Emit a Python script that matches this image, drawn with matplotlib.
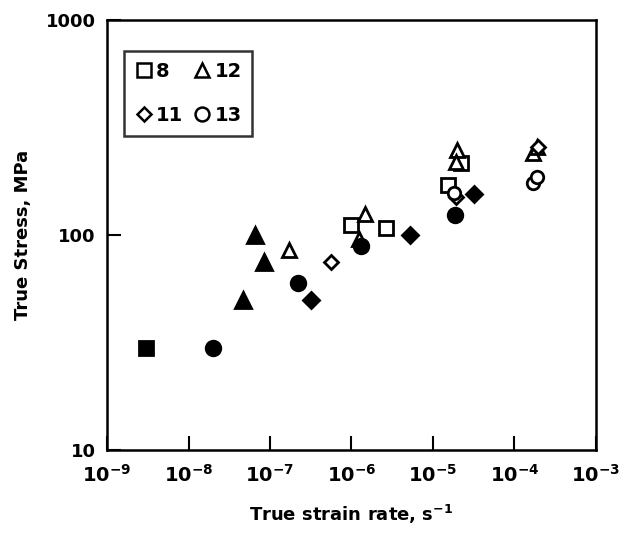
import matplotlib
matplotlib.use("Agg")
import matplotlib.pyplot as plt
from matplotlib.lines import Line2D

plt.rcParams['font.family'] = ['DejaVu Sans']
plt.rcParams['font.weight'] = 'bold'
plt.rcParams['mathtext.fontset'] = 'custom'
plt.rcParams['mathtext.rm'] = 'DejaVu Sans:bold'
plt.rcParams['mathtext.it'] = 'DejaVu Sans:bold'
plt.rcParams['mathtext.bf'] = 'DejaVu Sans:bold'

# Alloy 8 (squares)
sq_fill_x = [3.0e-9]
sq_fill_y = [30]
sq_open_x = [1.0e-6, 2.65e-6, 1.54e-5, 2.2e-5]
sq_open_y = [112, 108, 171, 216]

# Alloy 12 (triangles)
tri_fill_x = [4.6e-8, 6.5e-8, 8.4e-8]
tri_fill_y = [50, 100, 75]
tri_open_x = [1.7e-7, 1.25e-6, 1.47e-6, 1.95e-5, 1.9e-5, 1.67e-4, 1.87e-4]
tri_open_y = [85, 96, 126, 248, 218, 240, 256]

# Alloy 11 (diamonds)
dia_fill_x = [3.2e-7, 5.3e-6, 3.2e-5]
dia_fill_y = [50, 100, 155]
dia_open_x = [5.6e-7, 1.9e-5, 1.95e-4]
dia_open_y = [75, 150, 258]

# Alloy 13 (circles)
cir_fill_x = [2.0e-8, 2.2e-7, 1.3e-6, 1.86e-5]
cir_fill_y = [30, 60, 89, 124]
cir_open_x = [1.8e-5, 1.7e-4, 1.9e-4]
cir_open_y = [157, 174, 187]

xticks = [1e-9, 1e-8, 1e-7, 1e-6, 1e-5, 1e-4, 1e-3]
xlabels = ['$10^{-9}$', '$10^{-8}$', '$10^{-7}$', '$10^{-6}$',
           '$10^{-5}$', '$10^{-4}$', '$10^{-3}$']
yticks = [10, 100, 1000]
ylabels = ['10', '100', '1000']

fig = plt.figure(figsize=(6.24, 5.34), dpi=100)
ax = fig.add_axes([0.1715, 0.157, 0.7835, 0.8055])

kw = dict(linestyle='none', markeredgecolor='black', markeredgewidth=2.0)
ax.plot(sq_fill_x, sq_fill_y, 's', markersize=10.5, markerfacecolor='black', **kw)
ax.plot(sq_open_x, sq_open_y, 's', markersize=9.5, markerfacecolor='white', **kw)
ax.plot(tri_fill_x, tri_fill_y, '^', markersize=11, markerfacecolor='black', **kw)
ax.plot(tri_open_x, tri_open_y, '^', markersize=10, markerfacecolor='white', **kw)
ax.plot(dia_fill_x, dia_fill_y, 'D', markersize=8, markerfacecolor='black', **kw)
ax.plot(dia_open_x, dia_open_y, 'D', markersize=7.5, markerfacecolor='white', **kw)
ax.plot(cir_fill_x, cir_fill_y, 'o', markersize=10.5, markerfacecolor='black', **kw)
ax.plot(cir_open_x, cir_open_y, 'o', markersize=9, markerfacecolor='white', **kw)

ax.set_xscale('log')
ax.set_yscale('log')
ax.set_xlim(1e-9, 1e-3)
ax.set_ylim(10, 1000)
ax.set_xticks(xticks)
ax.set_xticklabels(xlabels)
ax.set_yticks(yticks)
ax.set_yticklabels(ylabels)
ax.minorticks_off()
ax.tick_params(direction='in', length=10, width=1.5)
ax.tick_params(axis='y', pad=8, labelsize=13)
ax.tick_params(axis='x', pad=10, labelsize=14)
for s in ax.spines.values():
    s.set_linewidth(1.8)

ax.set_xlabel('True strain rate, s$^{-1}$', fontsize=13, fontweight='bold', labelpad=12)
ax.set_ylabel('True Stress, MPa', fontsize=13, fontweight='bold', labelpad=10)

hk = dict(linestyle='none', markeredgecolor='black', markerfacecolor='white',
          markeredgewidth=1.8)
handles = [Line2D([], [], marker='s', markersize=10, **hk),
           Line2D([], [], marker='D', markersize=7.5, **hk),
           Line2D([], [], marker='^', markersize=10, **hk),
           Line2D([], [], marker='o', markersize=10, **hk)]
leg = ax.legend(handles, ['8', '11', '12', '13'], ncol=2, loc='upper left',
                bbox_to_anchor=(0.015, 0.95), prop={'size': 14, 'weight': 'bold'},
                frameon=True, fancybox=False, edgecolor='black', handlelength=0.9,
                handletextpad=0.2, columnspacing=0.5, labelspacing=1.3,
                borderpad=0.55)
leg.get_frame().set_linewidth(1.8)

fig.savefig('out.png', dpi=100)
